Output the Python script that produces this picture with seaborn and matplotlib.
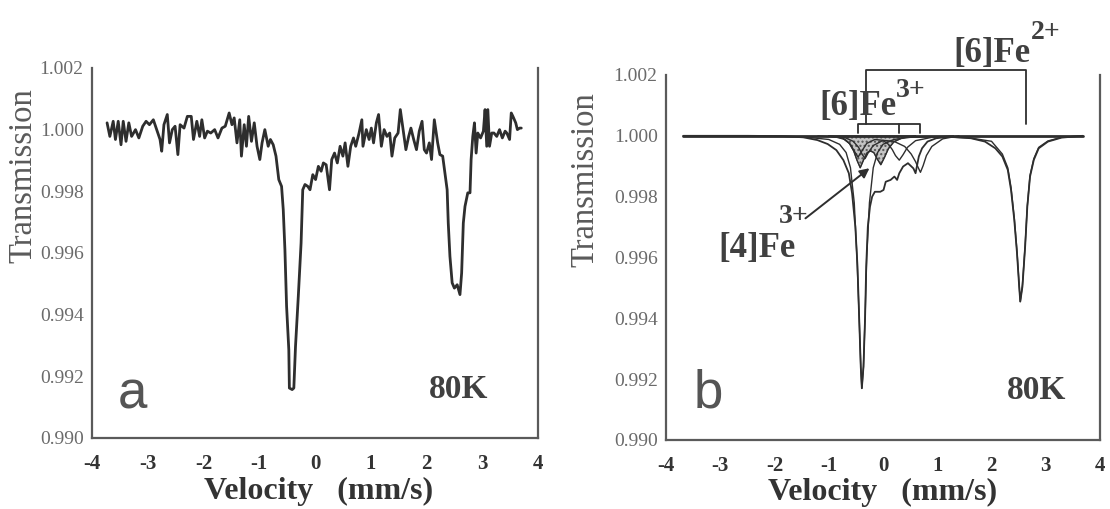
import matplotlib
matplotlib.use("Agg")
import matplotlib.pyplot as plt
import pandas as pd
import seaborn as sns

vel_a = [-3.73, -3.68, -3.62, -3.58, -3.53, -3.48, -3.44, -3.39, -3.34, -3.29,
         -3.22, -3.16, -3.09, -3.03, -2.97, -2.90, -2.84, -2.78, -2.75, -2.71,
         -2.65, -2.61, -2.56, -2.51, -2.46, -2.42, -2.35, -2.29, -2.22, -2.18,
         -2.12, -2.07, -2.03, -1.98, -1.93, -1.87, -1.80, -1.74, -1.67, -1.61,
         -1.54, -1.49, -1.45, -1.40, -1.35, -1.32, -1.27, -1.23, -1.19, -1.14,
         -1.09, -1.04, -0.99, -0.95, -0.90, -0.84, -0.80, -0.75, -0.70, -0.65,
         -0.60, -0.57, -0.54, -0.51, -0.47, -0.46, -0.41, -0.38, -0.35, -0.30,
         -0.25, -0.22, -0.18, -0.13, -0.09, -0.04, 0.01, 0.06, 0.11, 0.15,
         0.20, 0.26, 0.30, 0.35, 0.40, 0.45, 0.50, 0.54, 0.59, 0.64,
         0.69, 0.73, 0.79, 0.84, 0.86, 0.92, 0.97, 1.01, 1.05, 1.10,
         1.14, 1.19, 1.24, 1.29, 1.34, 1.38, 1.43, 1.49, 1.53, 1.58,
         1.63, 1.68, 1.72, 1.77, 1.82, 1.87, 1.92, 1.96, 2.00, 2.05,
         2.09, 2.14, 2.20, 2.24, 2.29, 2.33, 2.37, 2.39, 2.42, 2.46,
         2.50, 2.55, 2.60, 2.63, 2.66, 2.69, 2.74, 2.78, 2.80, 2.83,
         2.86, 2.89, 2.92, 2.97, 3.02, 3.05, 3.08, 3.10, 3.13, 3.17,
         3.21, 3.26, 3.31, 3.36, 3.41, 3.44, 3.49, 3.52, 3.55, 3.60,
         3.63, 3.67, 3.70]
trans_a = [1.00022, 0.99978, 1.00027, 0.99968, 1.00027, 0.99951, 1.00027, 0.99962, 1.00022, 0.99978,
           1.00000, 0.99973, 1.00011, 1.00027, 1.00016, 1.00032, 1.00000, 0.99968, 0.99930, 1.00016,
           1.00049, 0.99957, 1.00000, 1.00011, 0.99919, 1.00016, 1.00005, 1.00043, 1.00043, 0.99968,
           1.00027, 0.99978, 1.00032, 0.99973, 0.99995, 0.99989, 1.00000, 0.99973, 1.00005, 1.00011,
           1.00054, 1.00016, 1.00038, 0.99957, 1.00032, 0.99914, 1.00016, 0.99946, 1.00043, 0.99962,
           1.00022, 0.99946, 0.99903, 0.99957, 1.00000, 0.99946, 0.99968, 0.99951, 0.99914, 0.99838,
           0.99816, 0.99741, 0.99611, 0.99427, 0.99286, 0.99162, 0.99157, 0.99162, 0.99297, 0.99459,
           0.99632, 0.99805, 0.99822, 0.99816, 0.99805, 0.99854, 0.99838, 0.99881, 0.99865, 0.99892,
           0.99886, 0.99805, 0.99903, 0.99924, 0.99892, 0.99946, 0.99914, 0.99957, 0.99881, 0.99946,
           0.99973, 0.99946, 0.99989, 1.00032, 0.99946, 1.00000, 0.99968, 1.00005, 0.99957, 1.00022,
           1.00049, 0.99946, 1.00000, 0.99978, 0.99989, 0.99914, 0.99973, 0.99989, 1.00065, 1.00000,
           0.99935, 0.99978, 1.00005, 0.99968, 0.99935, 0.99995, 1.00027, 0.99935, 0.99924, 0.99957,
           0.99903, 1.00032, 0.99957, 0.99919, 0.99914, 0.99859, 0.99805, 0.99697, 0.99589, 0.99503,
           0.99486, 0.99497, 0.99465, 0.99535, 0.99697, 0.99751, 0.99795, 0.99795, 0.99903, 0.99978,
           1.00022, 0.99924, 0.99989, 0.99973, 0.99995, 1.00065, 0.99946, 1.00065, 0.99946, 0.99989,
           0.99989, 0.99978, 1.00000, 0.99973, 0.99995, 0.99989, 0.99968, 1.00054, 1.00043, 1.00022,
           1.00000, 1.00005, 1.00005]

# ---- panel b: fitted envelope and sub-spectra ----
env_v = [-3.68, -2.50, -1.85, -1.47, -1.21, -1.02, -0.86, -0.73, -0.63, -0.57,
         -0.51, -0.47, -0.44, -0.41, -0.39, -0.36, -0.33, -0.31, -0.28, -0.24,
         -0.20, -0.15, -0.05, 0.01, 0.05, 0.14, 0.21, 0.26, 0.30, 0.37,
         0.46, 0.56, 0.60, 0.66, 0.72, 0.82, 0.98, 1.23, 1.62, 1.88,
         2.07, 2.20, 2.30, 2.36, 2.42, 2.47, 2.51, 2.53, 2.57, 2.62,
         2.66, 2.71, 2.78, 2.87, 3.04, 3.29, 3.68]
env_t = [1.00000, 1.00000, 0.99999, 0.99995, 0.99986, 0.99973, 0.99953, 0.99920, 0.99877, 0.99811,
         0.99701, 0.99570, 0.99405, 0.99241, 0.99170, 0.99241, 0.99405, 0.99570, 0.99701, 0.99767,
         0.99800, 0.99816, 0.99816, 0.99822, 0.99849, 0.99855, 0.99866, 0.99855, 0.99877, 0.99899,
         0.99910, 0.99893, 0.99877, 0.99932, 0.99959, 0.99981, 0.99992, 0.99997, 0.99992, 0.99981,
         0.99959, 0.99932, 0.99888, 0.99822, 0.99723, 0.99614, 0.99504, 0.99455, 0.99504, 0.99636,
         0.99767, 0.99866, 0.99921, 0.99959, 0.99981, 0.99994, 1.00000]

fe2_v = [-3.68, -1.50, -1.00, -0.80, -0.68, -0.60, -0.53, -0.48, -0.44, -0.41,
         -0.39, -0.36, -0.33, -0.30, -0.25, -0.18, -0.10, 0.00, 0.20, 0.50,
         1.00, 1.60, 2.00, 2.20, 2.30, 2.36, 2.42, 2.47, 2.51, 2.53,
         2.57, 2.62, 2.66, 2.71, 2.78, 2.87, 3.04, 3.29, 3.68]
fe2_t = [1.00000, 0.99997, 0.99988, 0.99972, 0.99945, 0.99895, 0.99780, 0.99600, 0.99405, 0.99241,
         0.99170, 0.99241, 0.99405, 0.99600, 0.99780, 0.99895, 0.99945, 0.99972, 0.99988, 0.99995,
         0.99997, 0.99993, 0.99982, 0.99940, 0.99895, 0.99830, 0.99730, 0.99620, 0.99510, 0.99455,
         0.99510, 0.99640, 0.99770, 0.99870, 0.99925, 0.99962, 0.99983, 0.99995, 1.00000]

# [4]Fe3+ doublet (shaded)
fe4_v = [-1.00, -0.75, -0.62, -0.54, -0.48, -0.42, -0.36, -0.29, -0.23, -0.17,
         -0.11, -0.04, 0.03, 0.10, 0.20, 0.35, 0.60]
fe4_t = [1.00000, 0.99993, 0.99975, 0.99950, 0.99920, 0.99895, 0.99920, 0.99945, 0.99950, 0.99945,
         0.99925, 0.99905, 0.99930, 0.99958, 0.99980, 0.99993, 1.00000]

# two [6]Fe3+ doublets
fe6a_v = [-1.20, -0.85, -0.70, -0.60, -0.53, -0.46, -0.39, -0.30, -0.15, 0.00,
          0.10, 0.17, 0.23, 0.30, 0.37, 0.45, 0.60, 0.90, 1.30]
fe6a_t = [1.00000, 0.99995, 0.99988, 0.99972, 0.99950, 0.99930, 0.99950, 0.99975, 0.99988, 0.99985,
          0.99972, 0.99955, 0.99935, 0.99920, 0.99938, 0.99962, 0.99984, 0.99995, 1.00000]
fe6b_v = [-1.00, -0.70, -0.55, -0.45, -0.38, -0.33, -0.27, -0.18, 0.00, 0.20,
          0.40, 0.52, 0.60, 0.65, 0.69, 0.74, 0.80, 0.90, 1.10, 1.40]
fe6b_t = [1.00000, 0.99994, 0.99982, 0.99962, 0.99938, 0.99925, 0.99945, 0.99968, 0.99985, 0.99982,
          0.99965, 0.99940, 0.99915, 0.99895, 0.99880, 0.99902, 0.99935, 0.99965, 0.99990, 1.00000]

# bracket markers (line positions)
fe2_lines = [-0.32, 2.63]
fe3_lines = [-0.46, 0.30, 0.69]

yticks = [0.990, 0.992, 0.994, 0.996, 0.998, 1.000, 1.002]
xticks = [-4, -3, -2, -1, 0, 1, 2, 3, 4]

sns.set_style("white")
plt.rcParams['font.family'] = ['Liberation Serif', 'DejaVu Serif']
plt.rcParams['axes.unicode_minus'] = False

line_col = '#2e2e2e'
axis_col = '#5a5a5a'

fig = plt.figure(figsize=(11.1, 5.09), dpi=100)
ax_a = fig.add_axes([0.0829, 0.1395, 0.4018, 0.7270])
ax_b = fig.add_axes([0.6000, 0.1356, 0.3910, 0.7171])

df_a = pd.DataFrame({'v': vel_a, 't': trans_a})
sns.lineplot(data=df_a, x='v', y='t', ax=ax_a, color=line_col, lw=2.0, sort=False, estimator=None)

sns.lineplot(x=env_v, y=env_t, ax=ax_b, color=line_col, lw=1.3, sort=False, estimator=None)
sns.lineplot(x=fe2_v, y=fe2_t, ax=ax_b, color=line_col, lw=1.0, sort=False, estimator=None)
ax_b.fill_between(fe4_v, fe4_t, 1.0, facecolor='#c4c4c4', edgecolor='#555555', hatch='....', lw=0.8)
sns.lineplot(x=fe4_v, y=fe4_t, ax=ax_b, color=line_col, lw=1.0, sort=False, estimator=None)
sns.lineplot(x=fe6a_v, y=fe6a_t, ax=ax_b, color=line_col, lw=1.0, sort=False, estimator=None)
sns.lineplot(x=fe6b_v, y=fe6b_t, ax=ax_b, color=line_col, lw=1.0, sort=False, estimator=None)
ax_b.plot([-3.68, 3.68], [1.0, 1.0], color=line_col, lw=2.0)

for ax, yl_x, yl_y, xl_x, xl_y in [(ax_a, -0.121, 0.71, 0.507, -0.105),
                                   (ax_b, -0.152, 0.712, 0.498, -0.103)]:
    ax.set_xlim(-4, 4)
    ax.set_ylim(0.990, 1.002)
    ax.set_xticks(xticks)
    ax.set_xticklabels([str(t) for t in xticks], fontweight='bold', fontsize=15, color='#333333')
    ax.set_yticks(yticks)
    ax.set_yticklabels([f'{t:.3f}' for t in yticks], fontsize=14, color='#6a6a6a')
    ax.tick_params(axis='x', direction='inout', length=7, width=1.3, color=axis_col, pad=8)
    ax.tick_params(axis='y', direction='in', length=0, pad=6)
    for side in ['left', 'bottom', 'right']:
        ax.spines[side].set_color(axis_col)
        ax.spines[side].set_linewidth(1.6)
    ax.spines['top'].set_visible(False)
    ax.set_xlabel('Velocity   (mm/s)', fontsize=23, fontweight='bold', color='#333333')
    ax.set_ylabel('Transmission', fontsize=23.5, color='#5a5a5a')
    ax.xaxis.set_label_coords(xl_x, xl_y)
    ax.yaxis.set_label_coords(yl_x, yl_y)

ax_a.text(-3.28, 0.99097, 'a', fontsize=38, color='#555555', ha='center', va='baseline',
          family=['Liberation Sans', 'DejaVu Sans'])
ax_a.text(2.57, 0.9913, '80K', fontsize=24, fontweight='bold', color='#404040', ha='center', va='baseline')
ax_b.text(-3.22, 0.99106, 'b', fontsize=38, color='#555555', ha='center', va='baseline',
          family=['Liberation Sans', 'DejaVu Sans'])
ax_b.text(2.83, 0.99134, '80K', fontsize=24, fontweight='bold', color='#404040', ha='center', va='baseline')

# brackets
ax_b.plot([fe2_lines[0], fe2_lines[0], fe2_lines[1], fe2_lines[1]],
          [1.0004, 1.00216, 1.00216, 1.0004], color=line_col, lw=1.3, clip_on=False)
ax_b.plot([fe3_lines[0], fe3_lines[0], fe3_lines[2], fe3_lines[2]],
          [1.0001, 1.0004, 1.0004, 1.0001], color=line_col, lw=1.3, clip_on=False)
ax_b.plot([fe3_lines[1], fe3_lines[1]], [1.0001, 1.0004], color=line_col, lw=1.3, clip_on=False)

t1 = ax_b.text(1.30, 1.00244, '[6]Fe', fontsize=25, fontweight='bold', color='#404040',
               va='baseline', ha='left', clip_on=False)
ax_b.annotate('2+', xy=(1.0, 1.12), xycoords=t1, fontsize=20, fontweight='bold', color='#404040',
              va='center', ha='left')
t2 = ax_b.text(-1.18, 1.00068, '[6]Fe', fontsize=25, fontweight='bold', color='#404040',
               va='baseline', ha='left', clip_on=False)
ax_b.annotate('3+', xy=(1.0, 1.0), xycoords=t2, fontsize=20, fontweight='bold', color='#404040',
              va='center', ha='left')
ax_b.text(-3.04, 0.99603, '[4]Fe', fontsize=25, fontweight='bold', color='#404040',
          va='baseline', ha='left')
ax_b.text(-1.92, 0.99712, '3+', fontsize=20, fontweight='bold', color='#404040',
          va='baseline', ha='left')
ax_b.annotate('', xy=(-0.21, 0.99899), xytext=(-1.47, 0.99723),
              arrowprops=dict(arrowstyle='-|>', color=line_col, lw=1.4, mutation_scale=14))

fig.savefig('out.png', dpi=100)
